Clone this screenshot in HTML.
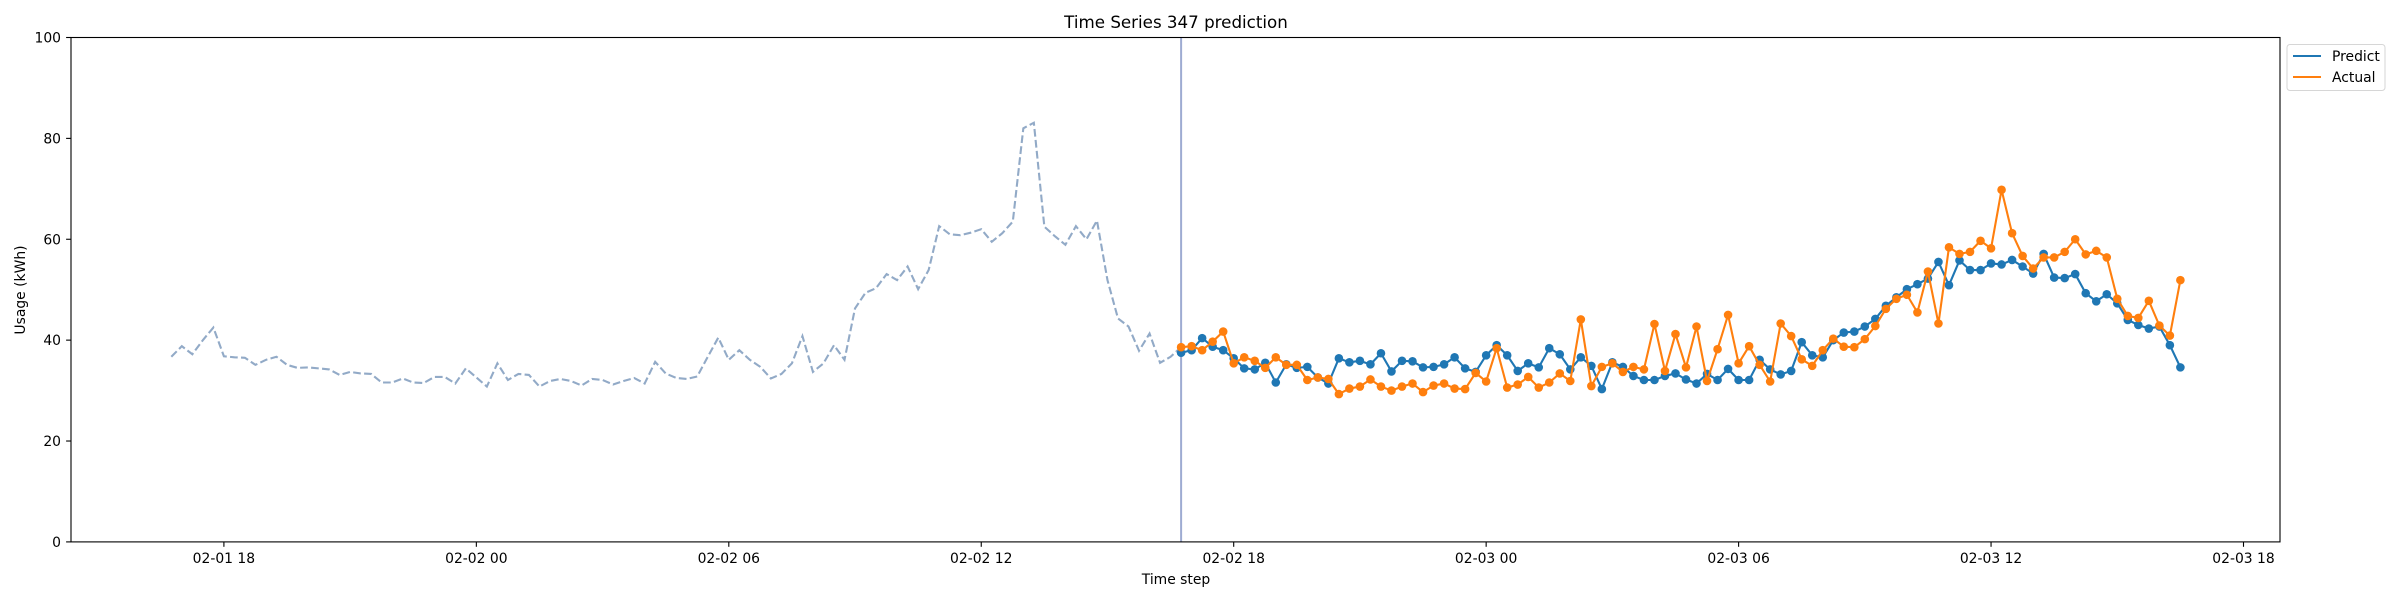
<!DOCTYPE html>
<html><head><meta charset="utf-8"><style>
html,body{margin:0;padding:0;background:#fff;}
svg{display:block;font-family:"DejaVu Sans","Liberation Sans",sans-serif;}
</style></head><body>
<svg id="chart" width="2400" height="600" viewBox="0 0 2400 600">
<rect x="0" y="0" width="2400" height="600" fill="#fff"/>
<text x="1176" y="28" font-size="16.7" text-anchor="middle">Time Series 347 prediction</text>
<g id="plot"></g>
<rect x="71" y="37.5" width="2209" height="504.4" fill="none" stroke="#000" stroke-width="1.1"/>
<g id="axes"></g>
<text x="1176" y="584" font-size="13.9" text-anchor="middle">Time step</text>
<text transform="translate(25,290) rotate(-90)" font-size="13.9" text-anchor="middle">Usage (kWh)</text>
<g>
<rect x="2287" y="44.5" width="98" height="46" rx="3" fill="#fff" stroke="#d6d6d6" stroke-width="1"/>
<line x1="2293" y1="56" x2="2321" y2="56" stroke="#1f77b4" stroke-width="2.1"/>
<text x="2332" y="61" font-size="13.9">Predict</text>
<line x1="2293" y1="77" x2="2321" y2="77" stroke="#ff7f0e" stroke-width="2.1"/>
<text x="2332" y="82" font-size="13.9">Actual</text>
</g>
</svg>
<script>
const historyValues = [36.7,38.8,37.2,40.0,42.5,36.8,36.6,36.5,35.1,36.1,36.7,35.1,34.5,34.6,34.4,34.2,33.1,33.7,33.4,33.3,31.6,31.6,32.4,31.6,31.5,32.7,32.7,31.4,34.4,32.6,30.8,35.4,32.1,33.3,33.1,30.8,31.9,32.3,31.9,31.0,32.3,32.1,31.2,31.9,32.5,31.4,35.7,33.4,32.5,32.3,32.8,36.7,40.5,36.1,38.0,36.1,34.7,32.4,33.3,35.4,40.8,33.7,35.4,39.0,36.1,46.3,49.4,50.3,53.1,51.9,54.6,50.1,53.9,62.6,61.0,60.8,61.3,62.0,59.5,61.2,63.5,82.0,83.1,62.5,60.6,58.9,62.6,60.0,63.7,51.9,44.3,42.7,37.9,41.3,35.5,36.7];
const predictValues = [37.5,38.0,40.4,38.7,38.0,36.4,34.4,34.2,35.5,31.6,35.2,34.5,34.7,32.6,31.4,36.4,35.6,35.9,35.2,37.4,33.8,35.9,35.8,34.6,34.7,35.2,36.6,34.4,33.7,37.0,39.0,37.0,33.9,35.4,34.6,38.4,37.2,34.2,36.6,34.9,30.3,35.6,34.7,32.9,32.1,32.1,32.9,33.4,32.2,31.4,33.3,32.1,34.3,32.1,32.1,36.1,34.2,33.2,33.9,39.6,37.0,36.6,40.0,41.5,41.7,42.7,44.2,46.8,48.5,50.1,51.1,52.2,55.5,50.9,55.8,53.9,53.9,55.2,55.0,55.9,54.6,53.2,57.1,52.4,52.3,53.1,49.3,47.7,49.1,47.3,44.0,43.0,42.3,42.7,39.0,34.6];
const actualValues = [38.6,38.8,38.0,39.7,41.7,35.4,36.6,35.9,34.5,36.6,35.1,35.1,32.1,32.6,32.3,29.3,30.4,30.8,32.2,30.8,30.0,30.8,31.4,29.7,31.0,31.4,30.4,30.3,33.5,31.8,38.4,30.6,31.2,32.7,30.6,31.6,33.4,31.9,44.1,30.9,34.7,35.4,33.7,34.7,34.2,43.2,33.9,41.2,34.6,42.7,31.9,38.2,45.0,35.4,38.8,35.1,31.8,43.3,40.8,36.2,34.9,38.0,40.3,38.7,38.6,40.2,42.8,46.2,48.2,49.0,45.5,53.6,43.3,58.4,57.1,57.5,59.7,58.2,69.8,61.2,56.7,54.2,56.4,56.4,57.5,60.0,57.0,57.7,56.4,48.2,44.8,44.4,47.8,42.9,40.9,51.9];
const xTickLabels = ["02-01 18","02-02 00","02-02 06","02-02 12","02-02 18","02-03 00","02-03 06","02-03 12","02-03 18"];
const xTickHours = [0,6,12,18,24,30,36,42,48];
const yTickValues = [0,20,40,60,80,100];
const historyStartHour = -1.25;
const forecastStartHour = 22.75;
const stepHours = 0.25;

const NS = "http://www.w3.org/2000/svg";
const X0 = 223.9, PXH = 42.075, YB = 541.9, PXV = 5.044;
const xs = h => X0 + h * PXH;
const ys = v => YB - v * PXV;
function mk(tag, attrs, parent){ const e=document.createElementNS(NS,tag); for(const k in attrs) e.setAttribute(k,attrs[k]); parent.appendChild(e); return e; }
const plot = document.getElementById('plot');
const axes = document.getElementById('axes');

yTickValues.forEach(v=>{
  const y=ys(v);
  const t=mk('line',{x1:66.1,y1:y,x2:71,y2:y,stroke:'#000','stroke-width':1.1},axes);
  
  
  const l=mk('text',{x:61,y:y+5,'font-size':13.9,'text-anchor':'end'},axes);
  l.textContent=v;
  
  
});
xTickHours.forEach((h,i)=>{
  const x=xs(h);
  const t=mk('line',{x1:x,y1:YB,x2:x,y2:YB+4.9,stroke:'#000','stroke-width':1.1},axes);
  
  
  const l=mk('text',{x:x,y:YB+21,'font-size':13.9,'text-anchor':'middle'},axes);
  l.textContent=xTickLabels[i];
  
  
});

// history dashed line
let hp = historyValues.map((v,i)=>xs(historyStartHour+i*stepHours)+','+ys(v));
hp.push(xs(forecastStartHour)+','+ys(actualValues[0]));
const hl=mk('polyline',{points:hp.join(' '),fill:'none',stroke:'#92aac7','stroke-width':2.1,'stroke-dasharray':'7.7 3.3'},plot);



const vx=xs(forecastStartHour);
const vl=mk('line',{x1:vx,y1:37.5,x2:vx,y2:YB,stroke:'#9eabd2','stroke-width':2},plot);



function series(vals,color,name){
  const pts=vals.map((v,k)=>xs(forecastStartHour+k*stepHours)+','+ys(v));
  const pl=mk('polyline',{points:pts.join(' '),fill:'none',stroke:color,'stroke-width':2.1,'stroke-linejoin':'round'},plot);
  
  
  vals.forEach((v,k)=>{
    const c=mk('circle',{cx:xs(forecastStartHour+k*stepHours),cy:ys(v),r:4.3,fill:color},plot);
    
    
  });
}
series(predictValues,'#1f77b4','predict');
series(actualValues,'#ff7f0e','actual');
</script>
</body></html>
